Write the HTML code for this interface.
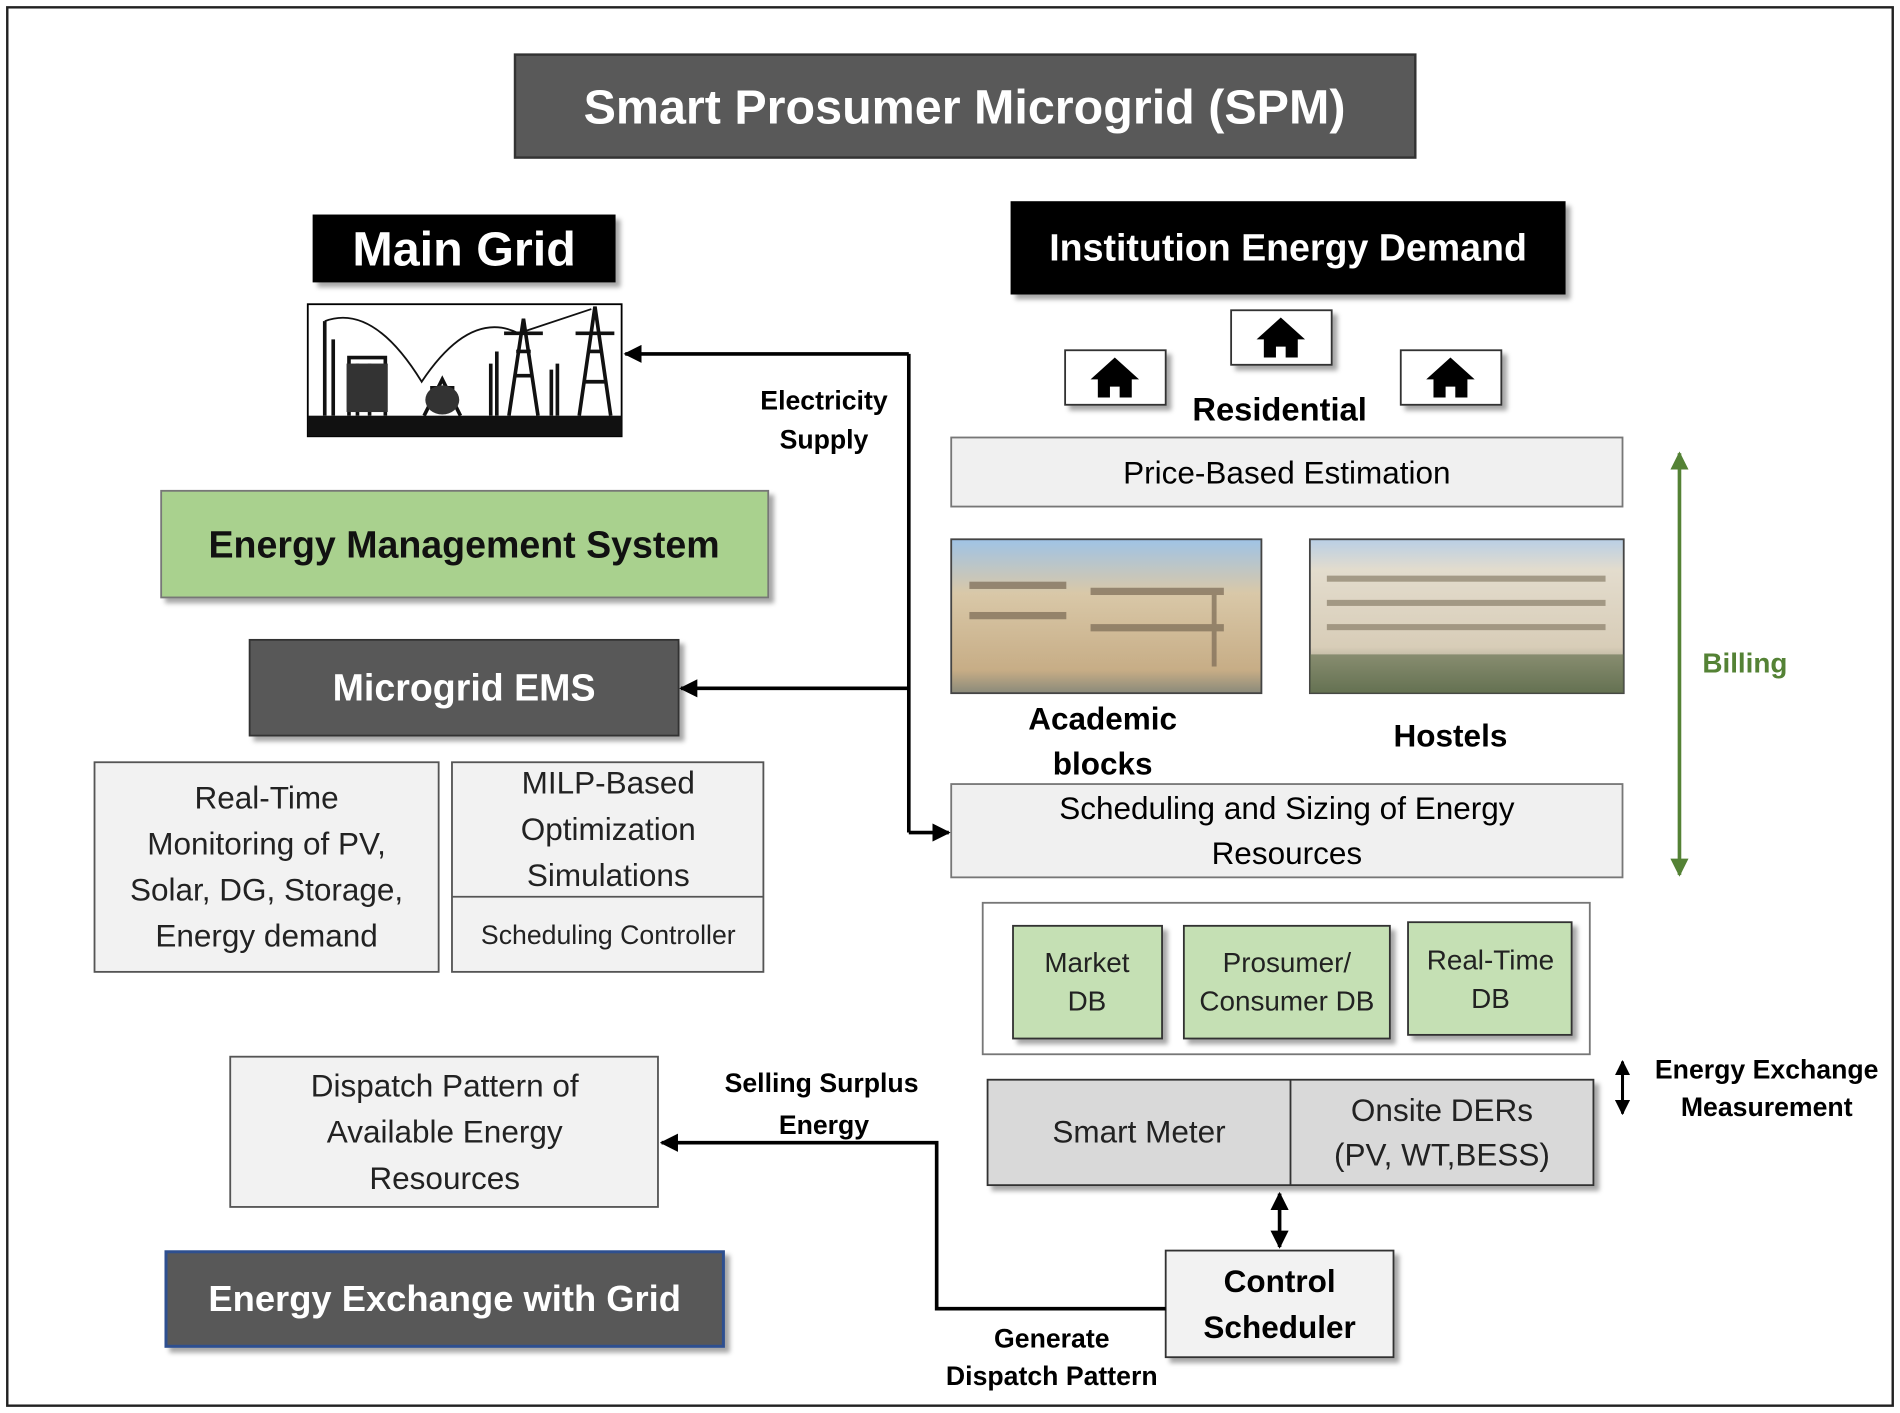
<!DOCTYPE html>
<html><head><meta charset="utf-8"><style>html,body{margin:0;padding:0;background:#fff}svg{display:block}text{font-family:"Liberation Sans",sans-serif}</style></head><body>
<svg width="1900" height="1413" viewBox="0 0 1568 1166" xmlns="http://www.w3.org/2000/svg">
<defs>
<filter id="sh" x="-5%" y="-5%" width="115%" height="130%"><feDropShadow dx="4" dy="4" stdDeviation="2" flood-color="#000" flood-opacity="0.35"/></filter>
<marker id="ah" viewBox="0 0 10 10" refX="9" refY="5" markerWidth="5" markerHeight="5" orient="auto-start-reverse"><path d="M0,0L10,5L0,10z" fill="#000"/></marker>
<marker id="ag" viewBox="0 0 10 10" refX="9" refY="5" markerWidth="5" markerHeight="5" orient="auto-start-reverse"><path d="M0,0L10,5L0,10z" fill="#548235"/></marker>
<linearGradient id="sky" x1="0" y1="0" x2="0" y2="1"><stop offset="0" stop-color="#9fc3e6"/><stop offset="0.35" stop-color="#d9c8a8"/><stop offset="0.85" stop-color="#c7ad86"/><stop offset="1" stop-color="#8a8a7a"/></linearGradient>
<linearGradient id="sky2" x1="0" y1="0" x2="0" y2="1"><stop offset="0" stop-color="#b9cfe6"/><stop offset="0.2" stop-color="#e3dccd"/><stop offset="0.7" stop-color="#d8cdb8"/><stop offset="1" stop-color="#6f7b5e"/></linearGradient>
</defs>
<rect x="6" y="6" width="1556" height="1154" fill="#fff" stroke="#222" stroke-width="2"/>

<rect x="425" y="45" width="743" height="85" fill="#595959" stroke="#333" stroke-width="2"/>
<text x="796" y="102" font-size="40" font-weight="bold" fill="#fff" text-anchor="middle">Smart Prosumer Microgrid (SPM)</text>

<rect x="258" y="177" width="250" height="56" fill="#000" filter="url(#sh)"/>
<text x="383" y="219" font-size="40" font-weight="bold" fill="#fff" text-anchor="middle">Main Grid</text>

<g>
<rect x="254" y="251" width="259" height="109" fill="#fff" stroke="#000" stroke-width="1.5"/>
<rect x="254" y="343" width="259" height="17" fill="#111"/>
<g stroke="#111" stroke-width="3" fill="none">
<path d="M268,343V265M275,343V280M288,343V295h30v48M295,300V343M305,300V343"/>
<path d="M350,343l15,-30l15,30M355,320h20"/>
<path d="M405,343V300M410,343V290"/>
<path d="M420,343l12,-80l12,80M424,310h16M426,290h12M416,275h32"/>
<path d="M455,343V305M460,343V300"/>
<path d="M478,343l13,-90l13,90M482,315h18M486,290h10M475,275h32"/>
<path d="M268,265q40,-15 80,50q40,-60 80,-40q30,-10 60,-20" stroke-width="1.5"/>
</g>
<rect x="286" y="300" width="34" height="40" fill="#333"/>
<ellipse cx="365" cy="330" rx="14" ry="12" fill="#333"/>
</g>

<rect x="834" y="166" width="458" height="77" fill="#000" filter="url(#sh)"/>
<text x="1063" y="215" font-size="31" font-weight="bold" fill="#fff" text-anchor="middle">Institution Energy Demand</text>

<g fill="#fff" stroke="#333" stroke-width="1.5" filter="url(#sh)">
<rect x="879" y="289" width="83" height="45"/><rect x="1016" y="256" width="83" height="45"/><rect x="1156" y="289" width="83" height="45"/>
</g>
<g fill="#000">
<path d="M920,295l-20,18h6v15h10v-9h8v9h10v-15h6z"/>
<path d="M1057,262l-20,18h6v15h10v-9h8v9h10v-15h6z"/>
<path d="M1197,295l-20,18h6v15h10v-9h8v9h10v-15h6z"/>
</g>
<text x="1056" y="347" font-size="27" font-weight="bold" text-anchor="middle">Residential</text>

<rect x="785" y="361" width="554" height="57" fill="#f0f0f0" stroke="#777" stroke-width="1.5"/>
<text x="1062" y="399" font-size="26" text-anchor="middle">Price-Based Estimation</text>

<rect x="785" y="445" width="256" height="127" fill="url(#sky)" stroke="#444" stroke-width="1.5"/>
<g fill="#7a6a55" opacity="0.7"><rect x="800" y="480" width="80" height="6"/><rect x="800" y="505" width="80" height="6"/><rect x="900" y="485" width="110" height="6"/><rect x="900" y="515" width="110" height="6"/><rect x="1000" y="490" width="4" height="60"/></g>
<rect x="1081" y="445" width="259" height="127" fill="url(#sky2)" stroke="#444" stroke-width="1.5"/>
<g fill="#8a7f6a" opacity="0.7"><rect x="1095" y="475" width="230" height="5"/><rect x="1095" y="495" width="230" height="5"/><rect x="1095" y="515" width="230" height="5"/></g>
<rect x="1081" y="540" width="259" height="32" fill="#5d6b4a" opacity="0.6"/>

<text x="910" y="602" font-size="26" font-weight="bold" text-anchor="middle">Academic</text>
<text x="910" y="639" font-size="26" font-weight="bold" text-anchor="middle">blocks</text>
<text x="1197" y="616" font-size="26" font-weight="bold" text-anchor="middle">Hostels</text>

<rect x="785" y="647" width="554" height="77" fill="#f0f0f0" stroke="#777" stroke-width="1.5"/>
<text x="1062" y="676" font-size="26" text-anchor="middle">Scheduling and Sizing of Energy</text>
<text x="1062" y="713" font-size="26" text-anchor="middle">Resources</text>

<line x1="1386" y1="374" x2="1386" y2="722" stroke="#548235" stroke-width="3" marker-start="url(#ag)" marker-end="url(#ag)"/>
<text x="1440" y="555" font-size="23" font-weight="bold" fill="#548235" text-anchor="middle">Billing</text>

<rect x="811" y="745" width="501" height="125" fill="#fff" stroke="#777" stroke-width="1.5"/>
<g fill="#c5e0b4" stroke="#333" stroke-width="1.5" filter="url(#sh)">
<rect x="836" y="764" width="123" height="93"/><rect x="977" y="764" width="170" height="93"/><rect x="1162" y="761" width="135" height="93"/>
</g>
<g font-size="23" text-anchor="middle" fill="#222">
<text x="897" y="802">Market</text><text x="897" y="834">DB</text>
<text x="1062" y="802">Prosumer/</text><text x="1062" y="834">Consumer DB</text>
<text x="1230" y="800">Real-Time</text><text x="1230" y="832">DB</text>
</g>

<rect x="815" y="891" width="500" height="87" fill="#d9d9d9" stroke="#333" stroke-width="1.5" filter="url(#sh)"/>
<line x1="1065" y1="891" x2="1065" y2="978" stroke="#333" stroke-width="1.5"/>
<text x="940" y="943" font-size="26" text-anchor="middle" fill="#222">Smart Meter</text>
<text x="1190" y="925" font-size="26" text-anchor="middle" fill="#222">Onsite DERs</text>
<text x="1190" y="962" font-size="26" text-anchor="middle" fill="#222">(PV, WT,BESS)</text>

<line x1="1339" y1="876" x2="1339" y2="919" stroke="#000" stroke-width="2.5" marker-start="url(#ah)" marker-end="url(#ah)"/>
<text x="1458" y="890" font-size="22" font-weight="bold" text-anchor="middle">Energy Exchange</text>
<text x="1458" y="921" font-size="22" font-weight="bold" text-anchor="middle">Measurement</text>

<line x1="1056" y1="985" x2="1056" y2="1029" stroke="#000" stroke-width="3" marker-start="url(#ah)" marker-end="url(#ah)"/>

<rect x="962" y="1032" width="188" height="88" fill="#f2f2f2" stroke="#333" stroke-width="1.5" filter="url(#sh)"/>
<text x="1056" y="1066" font-size="26" font-weight="bold" text-anchor="middle">Control</text>
<text x="1056" y="1104" font-size="26" font-weight="bold" text-anchor="middle">Scheduler</text>

<rect x="133" y="405" width="501" height="88" fill="#a9d18e" stroke="#777" stroke-width="1.5" filter="url(#sh)"/>
<text x="383" y="460" font-size="31" font-weight="bold" text-anchor="middle" fill="#111">Energy Management System</text>

<rect x="206" y="528" width="354" height="79" fill="#595959" stroke="#333" stroke-width="1.5" filter="url(#sh)"/>
<text x="383" y="578" font-size="31" font-weight="bold" fill="#fff" text-anchor="middle">Microgrid EMS</text>

<rect x="78" y="629" width="284" height="173" fill="#f2f2f2" stroke="#555" stroke-width="1.5"/>
<g font-size="26" text-anchor="middle" fill="#222">
<text x="220" y="667">Real-Time</text><text x="220" y="705">Monitoring of PV,</text><text x="220" y="743">Solar, DG, Storage,</text><text x="220" y="781">Energy demand</text>
</g>
<rect x="373" y="629" width="257" height="173" fill="#f2f2f2" stroke="#555" stroke-width="1.5"/>
<line x1="373" y1="740" x2="630" y2="740" stroke="#555" stroke-width="1.5"/>
<g font-size="26" text-anchor="middle" fill="#222">
<text x="502" y="655">MILP-Based</text><text x="502" y="693">Optimization</text><text x="502" y="731">Simulations</text>
</g>
<text x="502" y="779" font-size="22" text-anchor="middle" fill="#222">Scheduling Controller</text>

<rect x="190" y="872" width="353" height="124" fill="#f2f2f2" stroke="#555" stroke-width="1.5"/>
<g font-size="26" text-anchor="middle" fill="#222">
<text x="367" y="905">Dispatch Pattern of</text><text x="367" y="943">Available Energy</text><text x="367" y="981">Resources</text>
</g>

<rect x="137" y="1033" width="460" height="78" fill="#595959" stroke="#2f4f8f" stroke-width="2.5" filter="url(#sh)"/>
<text x="367" y="1082" font-size="30" font-weight="bold" fill="#fff" text-anchor="middle">Energy Exchange with Grid</text>

<g stroke="#000" stroke-width="3" fill="none">
<path d="M750,292V687"/>
<path d="M750,292H516" marker-end="url(#ah)"/>
<path d="M750,568H562" marker-end="url(#ah)"/>
<path d="M750,687H783" marker-end="url(#ah)"/>
<path d="M962,1080H773V943H546" marker-end="url(#ah)"/>
</g>
<g font-size="22" font-weight="bold" text-anchor="middle">
<text x="680" y="338">Electricity</text><text x="680" y="370">Supply</text>
<text x="678" y="901">Selling Surplus</text><text x="680" y="936">Energy</text>
<text x="868" y="1112">Generate</text><text x="868" y="1143">Dispatch Pattern</text>
</g>
</svg>
</body></html>
